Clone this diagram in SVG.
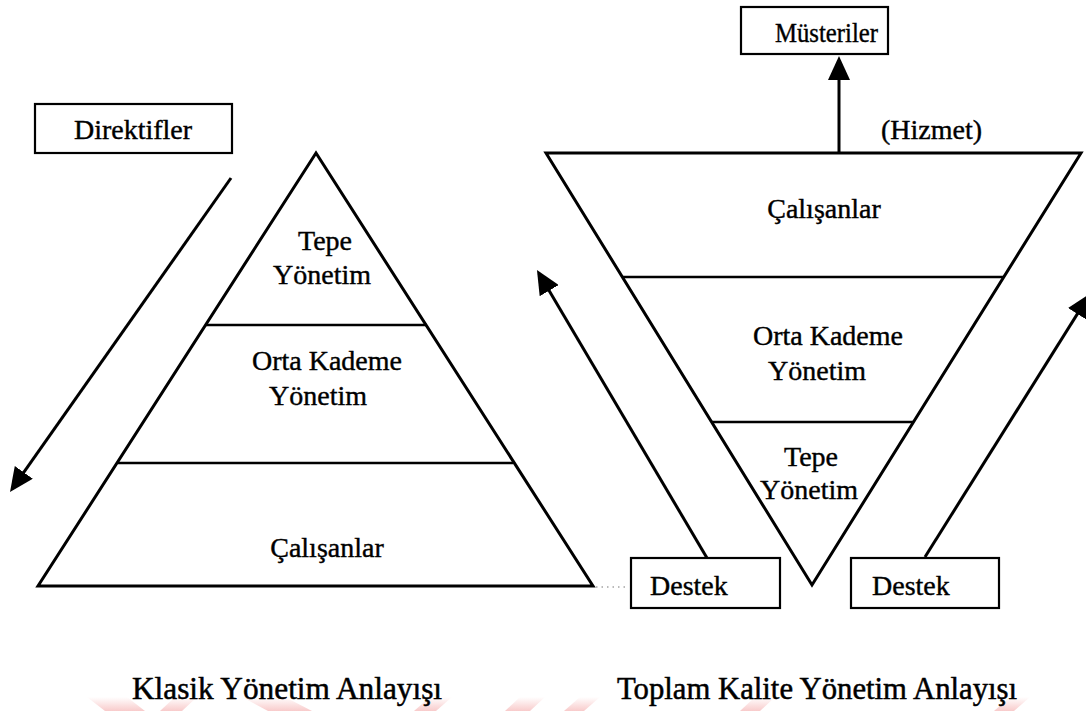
<svg xmlns="http://www.w3.org/2000/svg" width="1086" height="711" viewBox="0 0 1086 711">
  <style>
    .bg { fill: #ffffff; }
    .edge { fill: none; stroke: #000; stroke-width: 3; stroke-linejoin: miter; }
    .rule { stroke: #000; stroke-width: 2.5; }
    .box { fill: #fff; stroke: #000; stroke-width: 2.2; }
    .lbl { font-family: "Liberation Serif", "Times New Roman", serif; font-size: 28px; fill: #000; stroke: #000; stroke-width: 0.4; text-anchor: middle; }
    .lbl-start { text-anchor: start; }
    .cap { font-family: "Liberation Serif", "Times New Roman", serif; font-size: 31px; fill: #000; stroke: #000; stroke-width: 0.5; }
    .arrow { fill: none; stroke: #000; stroke-width: 3; marker-end: url(#head); }
    .wm { fill: url(#wmfade); }
  </style>
  <defs>
    <marker id="head" markerUnits="userSpaceOnUse" markerWidth="26" markerHeight="22" refX="20" refY="11" orient="auto">
      <path d="M0,0 L24,11 L0,22 z" fill="#000"/>
    </marker>
    <linearGradient id="wmfade" x1="0" y1="0" x2="0" y2="1">
      <stop offset="0" stop-color="#f3a0a0" stop-opacity="0"/>
      <stop offset="1" stop-color="#f3a0a0" stop-opacity="0.55"/>
    </linearGradient>
  </defs>

  <rect class="bg" x="0" y="0" width="1086" height="711"/>

  <!-- faint seal fragments along the bottom edge -->
  <g id="seal">
    <polygon class="wm" points="87,697 127,697 145,711 105,711"/>
    <polygon class="wm" points="175,697 197,697 182,711 160,711"/>
    <polygon class="wm" points="242,697 285,697 312,711 268,711"/>
    <polygon class="wm" points="430,697 452,697 436,711 414,711"/>
    <polygon class="wm" points="520,697 545,697 530,711 505,711"/>
    <polygon class="wm" points="580,697 600,697 584,711 564,711"/>
    <polygon class="wm" points="755,697 775,697 760,711 740,711"/>
    <polygon class="wm" points="1010,697 1030,697 1014,711 994,711"/>
  </g>

  <!-- Classic pyramid -->
  <g id="pyramid">
    <polygon class="edge" points="316,153 38,586 593,586"/>
    <line class="rule" x1="205" y1="325" x2="427" y2="325"/>
    <line class="rule" x1="118" y1="463" x2="513" y2="463"/>
  </g>
  <g id="p-tepe">
    <text class="lbl" x="325" y="250">Tepe</text>
    <text class="lbl" x="322" y="284">Yönetim</text>
  </g>
  <g id="p-orta">
    <text class="lbl" x="327" y="370">Orta Kademe</text>
    <text class="lbl" x="318" y="405">Yönetim</text>
  </g>
  <g id="p-calisanlar">
    <text class="lbl" x="327" y="557">Çalışanlar</text>
  </g>
  <g id="direktifler">
    <rect class="box" x="35" y="104" width="197" height="49"/>
    <text class="lbl" x="133" y="139">Direktifler</text>
  </g>

  <!-- TQM inverted pyramid -->
  <g id="inverted">
    <polygon class="edge" points="546,153 1081,153 812,585"/>
    <line class="rule" x1="623" y1="277" x2="1004" y2="277"/>
    <line class="rule" x1="712" y1="422" x2="913" y2="422"/>
  </g>
  <g id="i-calisanlar">
    <text class="lbl" x="824" y="218">Çalışanlar</text>
  </g>
  <g id="i-orta">
    <text class="lbl" x="828" y="345">Orta Kademe</text>
    <text class="lbl" x="817" y="380">Yönetim</text>
  </g>
  <g id="i-tepe">
    <text class="lbl" x="811" y="466">Tepe</text>
    <text class="lbl" x="809" y="499">Yönetim</text>
  </g>
  <g id="musteriler">
    <rect class="box" x="741" y="7" width="147" height="47"/>
    <text class="lbl lbl-start" x="775" y="42" font-size="27" textLength="103" lengthAdjust="spacingAndGlyphs">Müsteriler</text>
  </g>
  <g id="hizmet">
    <text class="lbl lbl-start" x="881" y="139">(Hizmet)</text>
  </g>
  <g id="destek-left">
    <rect class="box" x="631" y="558" width="149" height="50"/>
    <text class="lbl lbl-start" x="650" y="595">Destek</text>
  </g>
  <g id="destek-right">
    <rect class="box" x="851" y="558" width="148" height="50"/>
    <text class="lbl lbl-start" x="872" y="595">Destek</text>
  </g>

  <!-- Captions -->
  <g id="caption-left">
    <text class="cap" x="132" y="699" textLength="310" lengthAdjust="spacingAndGlyphs">Klasik Yönetim Anlayışı</text>
  </g>
  <g id="caption-right">
    <text class="cap" x="617" y="699" textLength="400" lengthAdjust="spacingAndGlyphs">Toplam Kalite Yönetim Anlayışı</text>
  </g>

  <!-- Connectors -->
  <g id="connectors">
    <line class="arrow" x1="231" y1="178" x2="12.3" y2="488.7"/>
    <line class="arrow" x1="839" y1="153" x2="839" y2="60"/>
    <line class="arrow" x1="707" y1="558" x2="539" y2="273.4"/>
    <line class="arrow" x1="925" y1="557" x2="1088" y2="297"/>
    <line x1="596" y1="587" x2="629" y2="587" stroke="#777" stroke-width="1.2" stroke-dasharray="1.5,4"/>
  </g>
</svg>
